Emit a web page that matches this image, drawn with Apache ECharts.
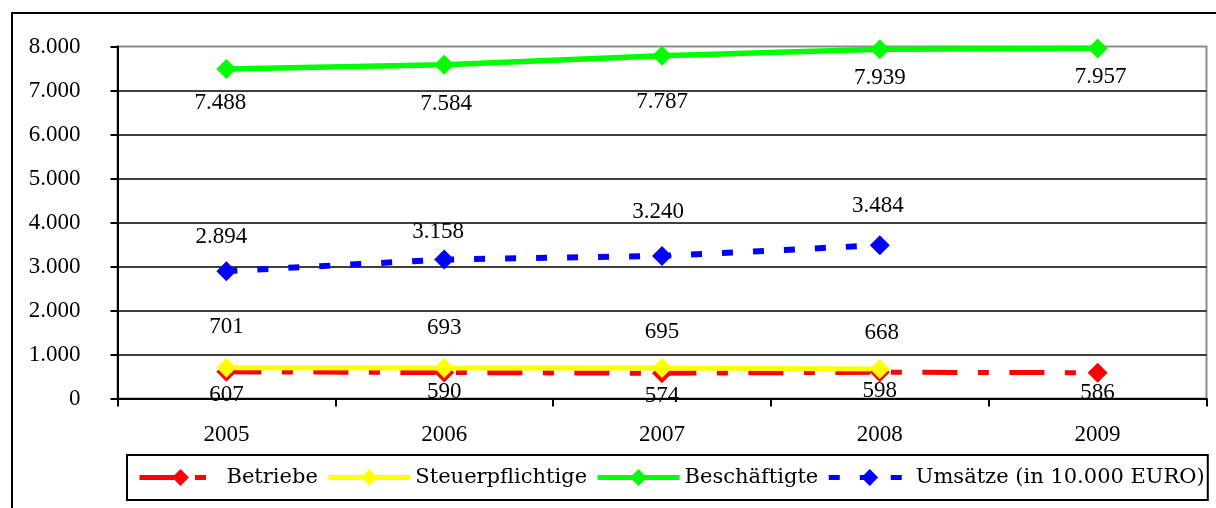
<!DOCTYPE html>
<html>
<head>
<meta charset="utf-8">
<script src="https://cdn.jsdelivr.net/npm/echarts@6/dist/echarts.min.js"></script>
<style>
html,body{margin:0;padding:0;background:#fff;}
#chart{width:1216px;height:508px;}
</style>
</head>
<body>
<div id="chart"></div>
<script>
// ---- data ----
const years = ['2005', '2006', '2007', '2008', '2009'];
const betriebe = [607, 590, 574, 598, 586];
const steuerpflichtige = [701, 693, 695, 668, null];
const beschaeftigte = [7488, 7584, 7787, 7939, 7957];
const umsaetze = [2894, 3158, 3240, 3484, null];
const yTicks = [0, 1000, 2000, 3000, 4000, 5000, 6000, 7000, 8000];

// ---- label placement (style, px offsets from point centre) ----
const betriebeLabelOffset = [[0, 23], [0, 19], [0, 23], [0, 19], [0, 20]];
const steuerLabelOffset = [[0, -41], [0, -40], [0, -36], [2, -36], [0, 0]];
const beschLabelOffset = [[-6, 34], [2, 39], [0, 46], [0, 29], [3, 29]];
const umsatzLabelOffset = [[-5, -34], [-6, -28], [-4, -44], [-2, -39], [0, 0]];

function fmt(v) {
  v = Math.round(v);
  if (v >= 1000) {
    return Math.floor(v / 1000) + '.' + String(v % 1000).padStart(3, '0');
  }
  return String(v);
}

const numFont = 'Liberation Serif';
const numSize = 23;

function buildData(values, offsets) {
  return values.map(function (v, i) {
    if (v === null) return '-';
    return { value: v, label: { offset: offsets[i] } };
  });
}

function seriesOf(name, values, offsets, color, width, dash) {
  return {
    name: name,
    type: 'line',
    data: buildData(values, offsets),
    symbol: 'diamond',
    symbolSize: [20, 20],
    showAllSymbol: true,
    connectNulls: false,
    itemStyle: { color: color, borderWidth: 0 },
    lineStyle: { color: color, width: width, type: dash, cap: 'butt' },
    emphasis: { disabled: true },
    label: {
      show: true,
      position: 'inside',
      formatter: function (p) { return fmt(p.value); },
      color: '#000',
      fontFamily: numFont,
      fontSize: numSize,
      lineHeight: numSize
    },
    z: 3
  };
}

const chart = echarts.init(document.getElementById('chart'), null, { renderer: 'canvas' });

const option = {
  animation: false,
  backgroundColor: '#fff',
  graphic: [{
    type: 'rect',
    shape: { x: 12, y: 13, width: 1240, height: 540 },
    style: { fill: null, stroke: '#000', lineWidth: 2 },
    silent: true,
    z: -1
  }],
  grid: {
    left: 117.5,
    right: 9.5,
    top: 46.5,
    bottom: 109.5,
    show: true,
    borderColor: '#8c8c8c',
    borderWidth: 2,
    backgroundColor: 'transparent',
    containLabel: false
  },
  legend: {
    left: 127,
    top: 455,
    width: 1089,
    orient: 'horizontal',
    padding: [10, 3, 10, 10],
    itemWidth: 82,
    itemHeight: 21,
    itemGap: 8,
    borderColor: '#000',
    borderWidth: 2,
    lineStyle: { width: 5 },
    itemStyle: { borderWidth: 0 },
    textStyle: {
      fontFamily: 'DejaVu Serif',
      fontSize: 21,
      color: '#000',
      lineHeight: 25
    },
    data: ['Betriebe', 'Steuerpflichtige', 'Beschäftigte', 'Umsätze (in 10.000 EURO)']
  },
  xAxis: {
    type: 'category',
    data: years,
    boundaryGap: true,
    axisLine: { show: true, lineStyle: { color: '#000', width: 2 } },
    axisTick: { show: true, length: 8, inside: false, alignWithLabel: false, lineStyle: { color: '#000', width: 2 } },
    axisLabel: { color: '#000', fontFamily: numFont, fontSize: numSize, lineHeight: numSize, margin: 25 },
    splitLine: { show: false }
  },
  yAxis: {
    type: 'value',
    min: yTicks[0],
    max: yTicks[yTicks.length - 1],
    interval: yTicks[1] - yTicks[0],
    axisLine: { show: true, lineStyle: { color: '#000', width: 2 } },
    axisTick: { show: true, length: 7, inside: false, lineStyle: { color: '#000', width: 2 } },
    axisLabel: {
      color: '#000', fontFamily: numFont, fontSize: numSize, margin: 37,
      formatter: function (v) { return fmt(v); }
    },
    splitLine: { show: true, showMaxLine: false, showMinLine: false, lineStyle: { color: '#000', width: 1.5 } }
  },
  series: [
    seriesOf('Betriebe', betriebe, betriebeLabelOffset, '#ff0000', 5, [35, 20.5, 11, 20.5]),
    seriesOf('Steuerpflichtige', steuerpflichtige, steuerLabelOffset, '#ffff00', 5, 'solid'),
    seriesOf('Beschäftigte', beschaeftigte, beschLabelOffset, '#00ff00', 5.5, 'solid'),
    seriesOf('Umsätze (in 10.000 EURO)', umsaetze, umsatzLabelOffset, '#0000ff', 6, [11, 20])
  ]
};

chart.setOption(option);
</script>
</body>
</html>
